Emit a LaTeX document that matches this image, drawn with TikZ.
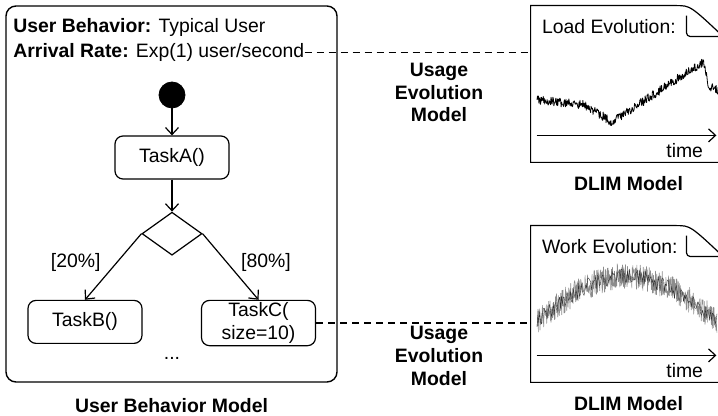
\documentclass[tikz,border=0pt]{standalone}
\usepackage{fontspec}
\setmainfont{Liberation Sans}
\usetikzlibrary{
  arrows.meta,
  shapes.geometric,
  chains,
  positioning,
  scopes
}

\begin{document}
\begin{tikzpicture}[
      x=0.5pt,y=-0.5pt,
      every node/.style={font=\fontsize{9.7}{11.6}\selectfont},
      >={Straight Barb[length=3.5pt,width=6.5pt]},
      task/.style={
         rectangle,
         rounded corners=4pt,
         draw,
         line width=0.6pt,
         minimum width=57pt,
         minimum height=21.5pt,
         inner sep=1pt,
         align=center
      },
      startdot/.style={circle, draw, fill=black, inner sep=0pt, minimum size=13pt},
      decision/.style={diamond, draw, line width=0.6pt, inner sep=0pt,
         minimum width=30pt, minimum height=21.5pt},
      frame/.style={rectangle, rounded corners=5pt, draw, line width=0.7pt,
         minimum width=165.5pt, minimum height=188pt},
      doc/.style={rectangle, inner sep=0pt, minimum width=97.5pt, minimum height=78pt},
      caption/.style={font=\fontsize{9.7}{11.4}\selectfont\bfseries, align=center, inner sep=0pt},
      txt/.style={inner sep=0pt},
      tip/.style={->, line width=0.6pt},
      link/.style={dash pattern=on 3.5pt off 2.5pt, line width=0.6pt},
      trace/.style={line width=0.3pt, line join=round},
    ]
    \useasboundingbox (0,0) rectangle (718,416);
    \clip (0,0) rectangle (718,416);

    % user behaviour model
    \node (ubm) [frame] at (171.5,194) {};
    \node (ubm-name) [caption, below=7.5pt of ubm] {User Behavior Model};
    \node (behavior) [txt, anchor=base west] at (13,32.5) {\textbf{User Behavior:} Typical User};
    \node (rate) [txt, anchor=base west] at (13,57.5) {\textbf{Arrival Rate:} Exp(1) user/second};

    \node (start) [startdot] at (172,95) {};
    \node (taska) [task, below=13.5pt of start] {TaskA()};
    \node (dec) [decision, below=16pt of taska] {};
    \node (taskb) [task, below=22pt of dec, xshift=-43.5pt] {TaskB()};
    \node (taskc) [task, below=22pt of dec, xshift=43.25pt] {TaskC(\\size=10)};
    \node (more) [txt, anchor=base] at (172,360) {...};

  { [start chain]
       \chainin (start);
       \chainin (taska)    [join=by tip];
  }
  { [start chain]
       \chainin (taska);
       \chainin (dec)    [join=by tip];
  }
    \draw[tip] (dec.west) -- node[txt, pos=.43, left=8pt] {[20\%]} (taskb.north);
    \draw[tip] (dec.east) -- node[txt, pos=.43, right=7pt] {[80\%]} (taskc.north);

    % DLIM documents
    \node (load) [doc] at (628.5,84) {};
    \node (work) [doc] at (628.5,304) {};
    \foreach \d/\title in {load/Load Evolution:, work/Work Evolution:} {
      \draw[line width=0.6pt] (\d.south east) -- (\d.south west) -- (\d.north west)
        -- ([xshift=-25pt]\d.north east)
        .. controls ([xshift=-18pt]\d.north east) .. ([yshift=-17pt]\d.north east) -- cycle;
      \draw[line width=0.6pt, rounded corners=2pt]
        ([xshift=-20pt,yshift=-5pt]\d.north east) |- ([yshift=-15.5pt]\d.north east);
      \node (\d-title) [txt, anchor=west] at ([xshift=5.5pt,yshift=-10.5pt]\d.north west) {\title};
      \draw[tip] ([xshift=3pt,yshift=13.5pt]\d.south west) -- ([xshift=-5pt,yshift=13.5pt]\d.south east);
      \node (\d-time) [txt, anchor=east] at ([xshift=-11.5pt,yshift=6pt]\d.south east) {time};
      \node (\d-name) [caption, below=7pt of \d] {DLIM Model};
    }

    % load and work curves
    \pgfmathsetseed{5}
    \draw[trace, line width=0.4pt] plot[domain=537:720, samples=380]
      (\x, {(\x<585 ? 100+(\x-537)*5/48 : (\x<612 ? 105+(\x-585)*17/27 :
        (\x<703 ? 122-(\x-612)*60/91 : (\x<709 ? 62+(\x-703)*4 : 86+(\x-709)*0.5)))) + 4.5*rand});
    \draw[trace, black!45] plot[domain=537:717, samples=540] (\x, {321-45*sin(\x-537)+13*rand});
    \draw[trace, black!80, line width=0.2pt] plot[domain=537:717, samples=200] (\x, {321-45*sin(\x-537)+8*rand});

    % usage evolution links
    \draw[link] (rate.east) -- (rate.east -| load.west);
    \draw[link] (taskc.east) -- (taskc.east -| work.west);
    \node (usage-top) [caption] at (439,92.5) {Usage\\Evolution\\Model};
    \node (usage-bottom) [caption] at (439,356) {Usage\\Evolution\\Model};
\end{tikzpicture}
\end{document}
